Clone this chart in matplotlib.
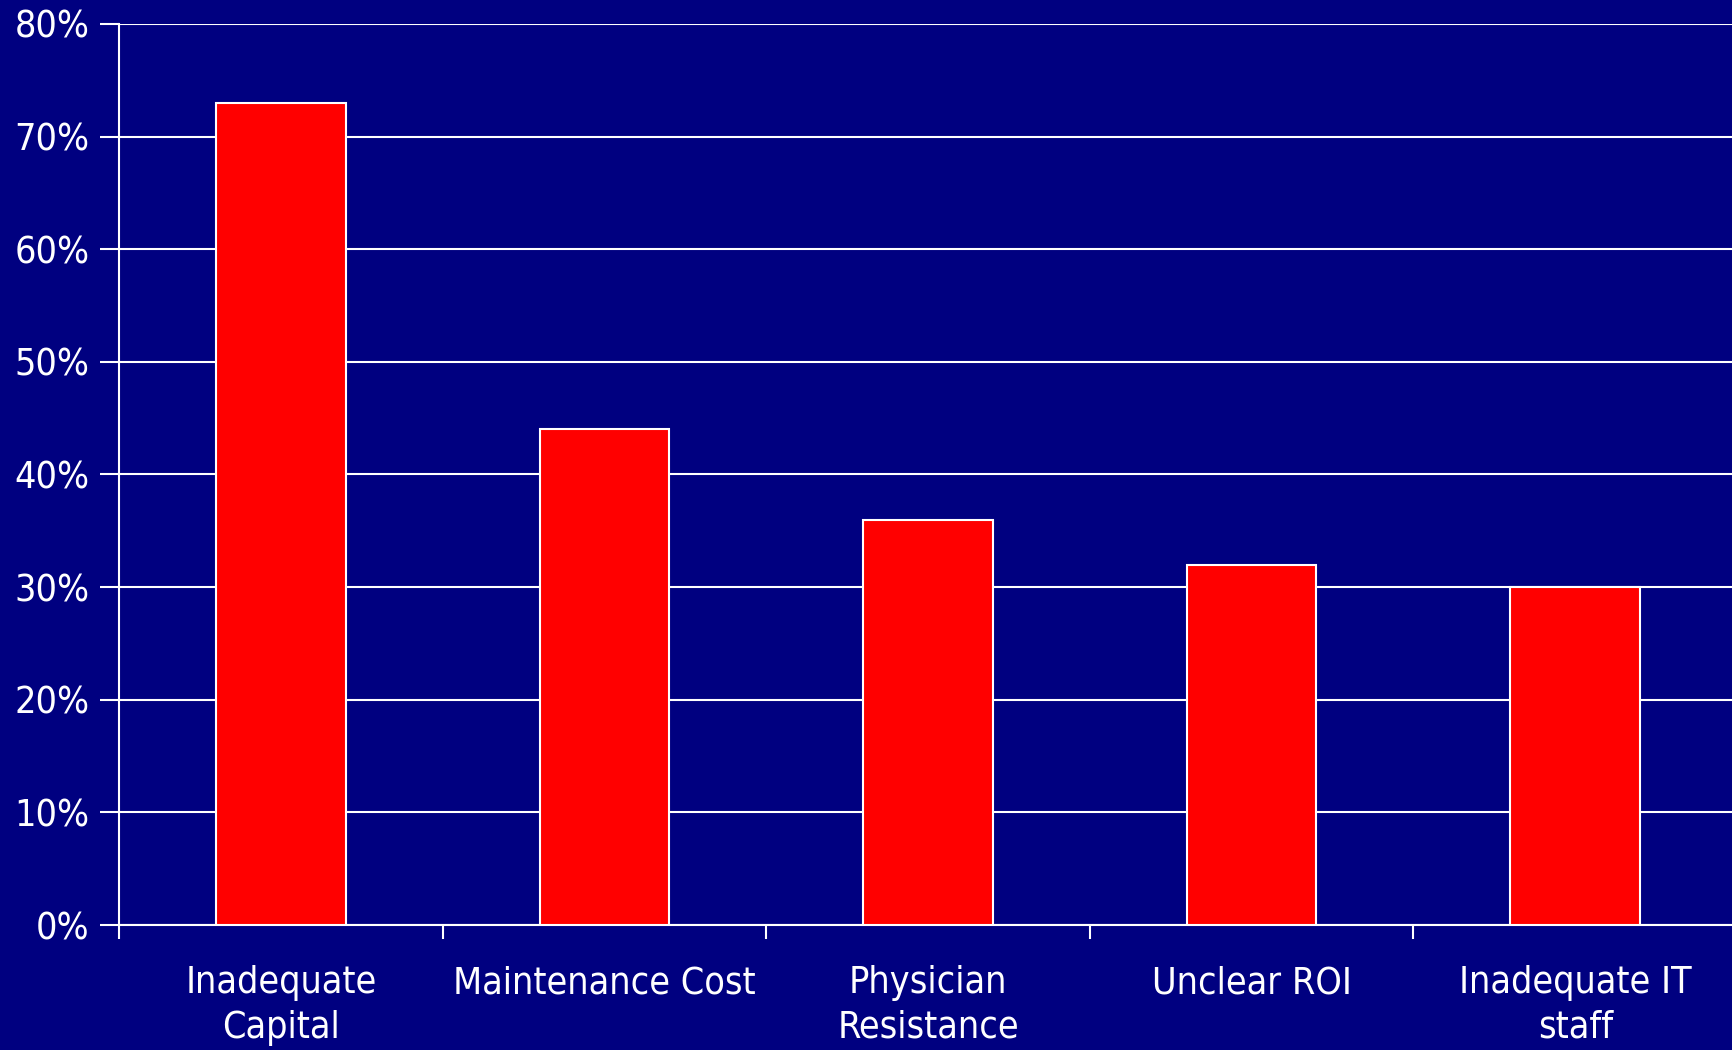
import matplotlib
matplotlib.use("Agg")
import matplotlib.pyplot as plt
from matplotlib.ticker import FuncFormatter
from matplotlib import font_manager

categories = ["Inadequate\nCapital", "Maintenance Cost", "Physician\nResistance", "Unclear ROI", "Inadequate IT\nstaff"]
values = [73, 44, 36, 32, 30]
y_ticks = [0, 10, 20, 30, 40, 50, 60, 70, 80]

names = {f.name for f in font_manager.fontManager.ttflist}
condensed = any(f.name == "DejaVu Sans" and f.stretch in ("condensed", "semi-condensed", 75, 87)
                for f in font_manager.fontManager.ttflist) or ("DejaVu Sans Condensed" in names)
plt.rcParams["font.family"] = ["DejaVu Sans"]
if condensed:
    plt.rcParams["font.stretch"] = "condensed"
    fs = 27
else:
    fs = 25

NAVY = "#000080"
W, H = 1732, 1050
fig = plt.figure(figsize=(W / 100, H / 100), dpi=100, facecolor=NAVY)
left, bottom, top = 119 / W, 1 - 925 / H, 1 - 24 / H
right = 1737 / W
ax = fig.add_axes([left, bottom, right - left, top - bottom], facecolor=NAVY)

x = list(range(len(categories)))
ax.bar(x, values, width=0.4, color="#FF0000", edgecolor="white", linewidth=1.5, zorder=3)

ax.set_xlim(-0.5, len(categories) - 0.5)
ax.set_ylim(0, 80)
ax.set_yticks(y_ticks)
ax.yaxis.set_major_formatter(FuncFormatter(lambda v, p: f"{int(v)}%"))
ax.grid(axis="y", color="white", linewidth=1.5, zorder=1)
ax.set_axisbelow(True)

ax.set_xticks(x)
ax.set_xticklabels(categories, fontsize=fs, color="white", linespacing=1.3)
ax.set_xticks([i - 0.5 for i in range(len(categories) + 1)], minor=True)
ax.tick_params(axis="x", which="major", length=0, pad=29)
ax.tick_params(axis="x", which="minor", length=10, width=1.5, color="white", direction="out")
ax.tick_params(axis="y", length=14, width=1.5, color="white", labelsize=fs, labelcolor="white", pad=7)

for s in ["top", "right"]:
    ax.spines[s].set_visible(False)
ax.spines["left"].set_color("white")
ax.spines["left"].set_linewidth(1.5)
ax.spines["bottom"].set_color("white")
ax.spines["bottom"].set_linewidth(1.5)

fig.savefig("out.png", dpi=100, facecolor=NAVY)
